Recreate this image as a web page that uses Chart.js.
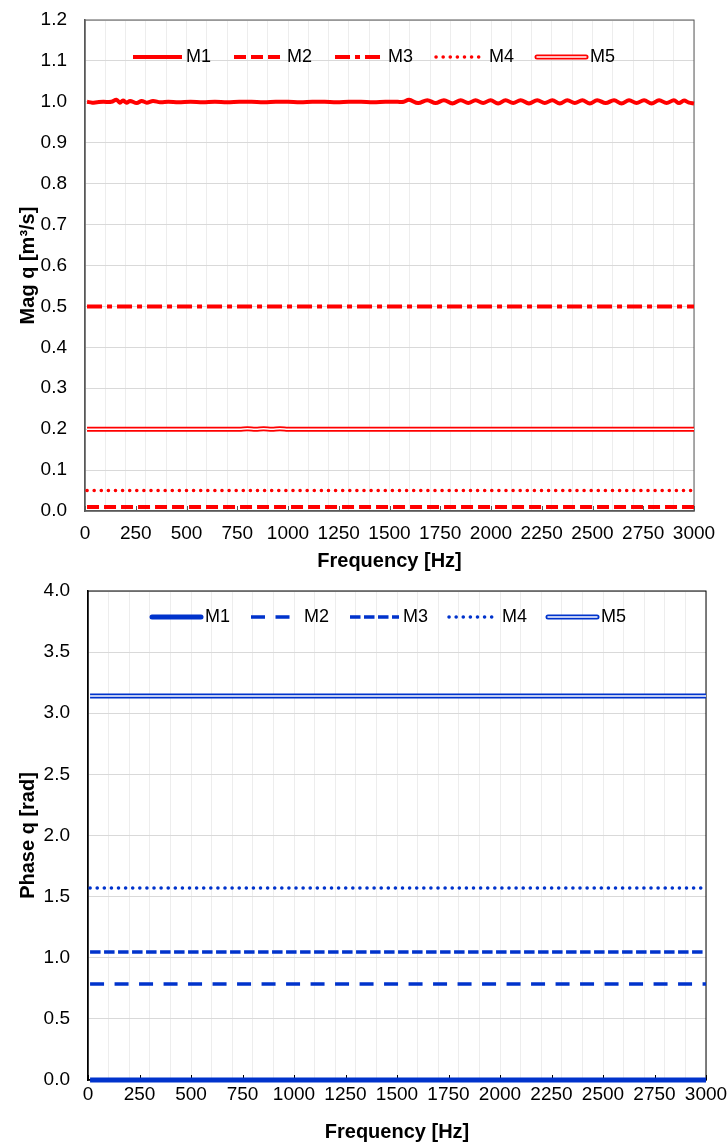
<!DOCTYPE html>
<html><head><meta charset="utf-8">
<script src="https://cdn.jsdelivr.net/npm/chart.js@4.4.1/dist/chart.umd.min.js"></script>
<style>
html,body{margin:0;padding:0;background:#fff;}
#c1{position:absolute;left:0;top:0;}
#c2{position:absolute;left:0;top:577px;}
</style>
</head><body>
<canvas id="c1" width="728" height="577"></canvas>
<canvas id="c2" width="728" height="565"></canvas>
<script>
// ---------- DATA ----------
const seriesLabels = ['M1', 'M2', 'M3', 'M4', 'M5'];

// Top chart: magnitude of q [m^3/s]
const magFreqM1 = [10, 35, 60, 90, 130, 155, 172, 187, 205, 222, 255, 279, 304, 335, 370, 410, 460, 520, 580, 640, 700, 760, 820, 880, 940, 1000, 1060, 1120, 1180, 1240, 1300, 1360, 1420, 1480, 1540, 1570, 1596, 1641, 1686, 1727, 1768, 1810, 1851, 1888, 1924, 1961, 1998, 2035, 2072, 2109, 2146, 2187, 2228, 2265, 2302, 2339, 2376, 2413, 2450, 2487, 2523, 2565, 2606, 2643, 2680, 2717, 2754, 2791, 2828, 2865, 2901, 2926, 2951, 2975, 3000];
const magM1 = [1.000, 0.998, 0.999, 1.000, 1.000, 1.005, 0.998, 1.003, 0.998, 1.002, 0.997, 1.002, 0.998, 1.002, 0.999, 1.000, 0.999, 1.000, 0.999, 1.000, 0.999, 1.000, 1.000, 0.999, 1.000, 1.000, 0.999, 1.000, 1.000, 0.999, 1.000, 1.000, 0.999, 1.000, 1.000, 1.000, 1.005, 0.997, 1.004, 0.997, 1.004, 0.996, 1.004, 0.997, 1.004, 0.997, 1.004, 0.996, 1.004, 0.997, 1.004, 0.996, 1.004, 0.997, 1.004, 0.996, 1.004, 0.997, 1.004, 0.996, 1.004, 0.997, 1.004, 0.996, 1.004, 0.997, 1.004, 0.996, 1.004, 0.997, 1.004, 0.997, 1.003, 0.998, 0.996];
const magFreqFlat = [10, 3000];
const magM2 = [0.01, 0.01];
const magM3 = [0.5, 0.5];
const magM4 = [0.05, 0.05];
const magFreqM5 = [10, 500, 760, 800, 840, 880, 920, 960, 1000, 1040, 1500, 2000, 2500, 3000];
const magM5 = [0.200, 0.200, 0.200, 0.201, 0.200, 0.201, 0.200, 0.201, 0.200, 0.200, 0.200, 0.200, 0.200, 0.200];

// Bottom chart: phase of q [rad]
const phaseFreq = [10, 3000];
const phaseM1 = [0, 0];
const phaseM2 = [0.785, 0.785];
const phaseM3 = [1.047, 1.047];
const phaseM4 = [1.571, 1.571];
const phaseM5 = [3.142, 3.142];

// ---------- HELPERS ----------
const pts = (xs, ys) => xs.map((x, i) => ({x: x, y: ys[i]}));
const FONT = "'Liberation Sans', Arial, sans-serif";
const RED = '#FF0000';
const BLUE = '#0033CC';

const framePlugin = {
  id: 'frame',
  beforeDatasetsDraw(chart, args, opts) {
    const {ctx, chartArea: a} = chart;
    ctx.save();
    ctx.strokeStyle = opts.color;
    ctx.lineWidth = opts.width;
    ctx.strokeRect(a.left, a.top, a.right - a.left, a.bottom - a.top);
    const xs = chart.scales.x;
    ctx.beginPath();
    xs.ticks.forEach(t => {
      const px = Math.round(xs.getPixelForValue(t.value)) + 0.5;
      ctx.moveTo(px, a.bottom);
      ctx.lineTo(px, a.bottom - opts.tick);
    });
    ctx.lineWidth = 1;
    ctx.stroke();
    ctx.restore();
  }
};

const lineLegend = {
  id: 'lineLegend',
  afterDraw(chart, args, opts) {
    const {ctx, chartArea: a} = chart;
    ctx.save();
    ctx.font = opts.font;
    ctx.textBaseline = 'middle';
    ctx.textAlign = 'left';
    let x = opts.x;
    const y = a.top + opts.dy;
    chart.data.datasets.forEach(ds => {
      if (ds.overlay) return;
      ctx.setLineDash(ds.borderDash || []);
      ctx.lineCap = ds.legendCap || ds.borderCapStyle || 'butt';
      ctx.strokeStyle = ds.borderColor;
      ctx.lineWidth = ds.borderWidth;
      ctx.beginPath();
      ctx.moveTo(x, y);
      ctx.lineTo(x + opts.sample, y);
      ctx.stroke();
      if (ds.inner) {
        ctx.setLineDash([]);
        ctx.strokeStyle = '#fff';
        ctx.lineWidth = ds.inner;
        ctx.beginPath();
        ctx.moveTo(x, y);
        ctx.lineTo(x + opts.sample, y);
        ctx.stroke();
      }
      x += opts.sample + opts.textGap;
      ctx.fillStyle = '#000';
      ctx.fillText(ds.label, x, y);
      x += ctx.measureText(ds.label).width + opts.itemGap;
    });
    ctx.restore();
  }
};

function makeChart(id, datasets, c) {
  return new Chart(document.getElementById(id), {
    type: 'line',
    data: {datasets: datasets},
    plugins: [framePlugin, lineLegend],
    options: {
      responsive: false,
      devicePixelRatio: 1,
      animation: false,
      events: [],
      layout: {padding: {top: c.padTop, right: c.padRight, left: 0, bottom: 0}},
      elements: {point: {radius: 0}, line: {tension: 0}},
      datasets: {line: {clip: 6}},
      plugins: {
        legend: {display: false},
        tooltip: {enabled: false},
        frame: {color: c.frameColor, width: 1, tick: 5},
        lineLegend: {font: '18px ' + FONT, x: c.legendX, dy: c.legendDy, sample: 49, textGap: 4, itemGap: c.itemGap}
      },
      scales: {
        x: {
          type: 'linear', position: 'bottom', min: 0, max: 3000, weight: 1,
          ticks: {stepSize: 250, color: '#000', font: {family: FONT, size: 19}, padding: 0, maxRotation: 0, autoSkip: false, callback: v => String(v)},
          grid: {display: true, drawOnChartArea: false, drawTicks: true, tickLength: c.xTickPad, tickColor: 'rgba(0,0,0,0)'},
          border: {display: true, color: c.frameColor, width: 1.5},
          title: {display: true, text: 'Frequency [Hz]', color: '#000', font: {family: FONT, size: 20, weight: 'bold', lineHeight: 1}, padding: {top: 0, bottom: c.xTitlePad}},
          afterFit: s => { s.height = c.xHeight; }
        },
        x2: {
          type: 'linear', position: 'bottom', min: 0, max: 3000, weight: 2,
          ticks: {display: false, stepSize: 100},
          grid: {display: true, color: '#EDEDED', lineWidth: 1, drawTicks: false},
          border: {display: false},
          afterFit: s => { s.height = 0; }
        },
        y: {
          type: 'linear', position: 'left', min: 0, max: c.yMax,
          ticks: {stepSize: c.yStep, color: '#000', font: {family: FONT, size: 19}, padding: 0, callback: v => Number(v).toFixed(1)},
          grid: {display: true, color: '#D9D9D9', lineWidth: 1, drawTicks: true, tickLength: 18, tickColor: 'rgba(0,0,0,0)'},
          border: {display: true, color: c.frameColor, width: 1.5},
          title: {display: true, text: c.yTitle, color: '#000', font: {family: FONT, size: 20, weight: 'bold', lineHeight: 1}, padding: {top: 18, bottom: 0}},
          afterFit: s => { s.width = c.yWidth; }
        }
      }
    }
  });
}

// ---------- TOP CHART ----------
makeChart('c1', [
  {label: seriesLabels[0], data: pts(magFreqM1, magM1), borderColor: RED, borderWidth: 4, tension: 0.35},
  {label: seriesLabels[1], data: pts(magFreqFlat, magM2), borderColor: RED, borderWidth: 4, borderDash: [12, 5]},
  {label: seriesLabels[2], data: pts(magFreqFlat, magM3), borderColor: RED, borderWidth: 4, borderDash: [15, 5, 5, 5]},
  {label: seriesLabels[3], data: pts(magFreqFlat, magM4), borderColor: RED, borderWidth: 3.5, borderDash: [0.1, 7], borderCapStyle: 'round'},
  {label: seriesLabels[4], data: pts(magFreqM5, magM5), borderColor: RED, borderWidth: 5, inner: 1.5, legendCap: 'round', tension: 0.35},
  {label: 'M5 inner', overlay: true, order: -1, data: pts(magFreqM5, magM5), borderColor: '#FFFFFF', borderWidth: 1.5, tension: 0.35}
], {
  padTop: 20, padRight: 34, yWidth: 85, xHeight: 66, yMax: 1.2, yStep: 0.1,
  yTitle: 'Mag q [m³/s]', frameColor: '#595959', xTickPad: 11, xTitlePad: 6,
  legendX: 133, legendDy: 37, itemGap: 23
});

// ---------- BOTTOM CHART ----------
makeChart('c2', [
  {label: seriesLabels[0], data: pts(phaseFreq, phaseM1), borderColor: BLUE, borderWidth: 5, legendCap: 'round'},
  {label: seriesLabels[1], data: pts(phaseFreq, phaseM2), borderColor: BLUE, borderWidth: 3.5, borderDash: [14, 10.5]},
  {label: seriesLabels[2], data: pts(phaseFreq, phaseM3), borderColor: BLUE, borderWidth: 3.5, borderDash: [10.5, 3.5]},
  {label: seriesLabels[3], data: pts(phaseFreq, phaseM4), borderColor: BLUE, borderWidth: 3.5, borderDash: [0.1, 7], borderCapStyle: 'round'},
  {label: seriesLabels[4], data: pts(phaseFreq, phaseM5), borderColor: BLUE, borderWidth: 5, inner: 1.5, legendCap: 'round'},
  {label: 'M5 inner', overlay: true, order: -1, data: pts(phaseFreq, phaseM5), borderColor: '#FFFFFF', borderWidth: 1.5}
], {
  padTop: 14, padRight: 22, yWidth: 88, xHeight: 62, yMax: 4, yStep: 0.5,
  yTitle: 'Phase q [rad]', frameColor: '#000000', xTickPad: 3, xTitlePad: 0,
  legendX: 152, legendDy: 26, itemGap: 21
});
</script>
</body></html>
